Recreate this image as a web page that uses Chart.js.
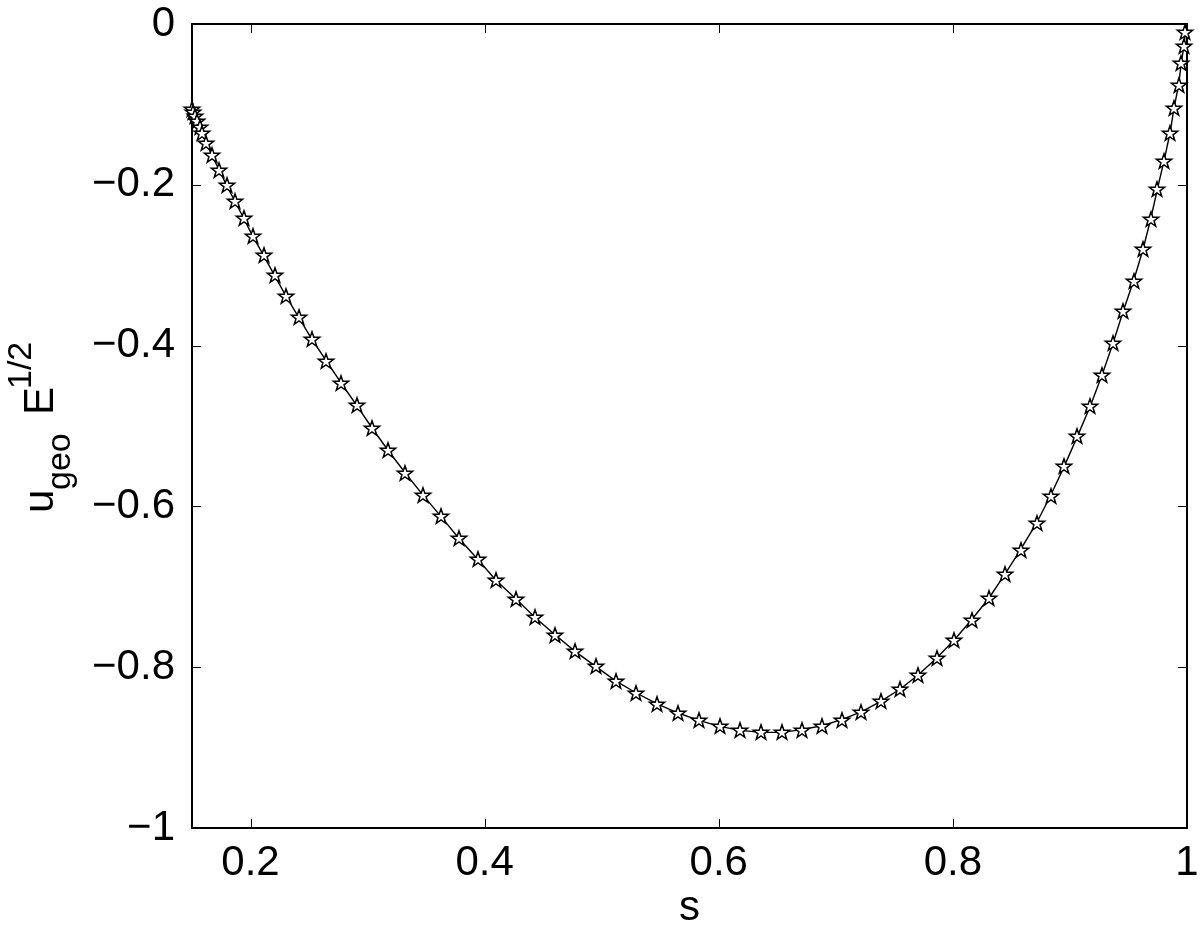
<!DOCTYPE html>
<html>
<head>
<meta charset="utf-8">
<script src="https://cdn.jsdelivr.net/npm/chart.js@4/dist/chart.umd.min.js"></script>
<style>
  html, body { margin: 0; padding: 0; background: #fff; }
  #wrap { width: 1200px; height: 927px; }
</style>
</head>
<body>
<div id="wrap"><canvas id="chart" width="1200" height="927"></canvas></div>
<script>
// values
const s = [0.1497, 0.1505, 0.1522, 0.1544, 0.1565, 0.1586, 0.1620, 0.1667, 0.1731, 0.1795,
  0.1864, 0.1940, 0.2020, 0.2111, 0.2205, 0.2304, 0.2412, 0.2523, 0.2646, 0.2774,
  0.2907, 0.3038, 0.3171, 0.3322, 0.3470, 0.3626, 0.3777, 0.3939, 0.4096, 0.4266,
  0.4431, 0.4601, 0.4772, 0.4948, 0.5122, 0.5296, 0.5469, 0.5653, 0.5829, 0.6009,
  0.6185, 0.6361, 0.6540, 0.6710, 0.6881, 0.7049, 0.7217, 0.7384, 0.7550, 0.7706,
  0.7862, 0.8013, 0.8160, 0.8309, 0.8445, 0.8578, 0.8715, 0.8834, 0.8951, 0.9064,
  0.9175, 0.9275, 0.9369, 0.9454, 0.9544, 0.9625, 0.9690, 0.9747, 0.9804, 0.9855,
  0.9889, 0.9929, 0.9951, 0.9974, 0.9986];
const u = [-0.1053, -0.1091, -0.1141, -0.1203, -0.1277, -0.1352, -0.1476, -0.1626, -0.1812, -0.2005,
  -0.2198, -0.2413, -0.2642, -0.2878, -0.3127, -0.3388, -0.3649, -0.3918, -0.4188, -0.4465,
  -0.4744, -0.5025, -0.5295, -0.5585, -0.5854, -0.6124, -0.6393, -0.6654, -0.6918, -0.7148,
  -0.7381, -0.7596, -0.7803, -0.7990, -0.8174, -0.8321, -0.8454, -0.8570, -0.8662, -0.8736,
  -0.8786, -0.8811, -0.8811, -0.8777, -0.8728, -0.8653, -0.8557, -0.8425, -0.8271, -0.8093,
  -0.7886, -0.7658, -0.7409, -0.7139, -0.6841, -0.6538, -0.6206, -0.5867, -0.5502, -0.5129,
  -0.4748, -0.4362, -0.3968, -0.3575, -0.3193, -0.2799, -0.2425, -0.2052, -0.1700, -0.1356,
  -0.1045, -0.0755, -0.0485, -0.0270, -0.0100];
// the solid line starts at the top-left corner before the first star
const sLineStart = 0.1502;
const uLineStart = 0;

const xTicks = [0.2, 0.4, 0.6, 0.8, 1];
const yTicks = [-1, -0.8, -0.6, -0.4, -0.2, 0];

const FONT = '"Liberation Sans", Arial, Helvetica, sans-serif';

// five-pointed star marker (MATLAB 'p')
function makeStar(r) {
  const size = 20;
  const c = document.createElement('canvas');
  c.width = size; c.height = size;
  const g = c.getContext('2d');
  const cx = size / 2, cy = size / 2 + 0.8;
  g.beginPath();
  for (let i = 0; i < 10; i++) {
    const rad = i % 2 ? r * 0.4 : r;
    const ang = -Math.PI / 2 + i * Math.PI / 5;
    g.lineTo(cx + rad * Math.cos(ang), cy + rad * Math.sin(ang));
  }
  g.closePath();
  g.fillStyle = '#fff';
  g.fill();
  g.lineWidth = 1.5;
  g.lineJoin = 'miter';
  g.strokeStyle = '#000';
  g.stroke();
  return c;
}

const fmt = v => {
  const n = Number(v.toFixed(1));
  return n < 0 ? '\u2212' + String(-n) : String(n);
};

// box, inward ticks and axis titles like a MATLAB figure
const boxPlugin = {
  id: 'matlabBox',
  beforeDatasetsDraw(chart) {
    const { ctx, chartArea: a, scales: { x, y } } = chart;
    ctx.save();
    ctx.strokeStyle = '#000';
    ctx.lineWidth = 1;
    ctx.beginPath();
    x.ticks.forEach(t => {
      const px = Math.round(x.getPixelForValue(t.value)) + 0.5;
      ctx.moveTo(px, a.bottom); ctx.lineTo(px, a.bottom - 9);
      ctx.moveTo(px, a.top); ctx.lineTo(px, a.top + 9);
    });
    y.ticks.forEach(t => {
      const py = Math.round(y.getPixelForValue(t.value)) + 0.5;
      ctx.moveTo(a.left, py); ctx.lineTo(a.left + 9, py);
      ctx.moveTo(a.right, py); ctx.lineTo(a.right - 9, py);
    });
    ctx.stroke();
    ctx.lineWidth = 2;
    ctx.strokeRect(a.left, a.top, a.right - a.left, a.bottom - a.top);
    ctx.restore();
    // keep the star images crisp
    ctx.imageSmoothingEnabled = false;
  },
  afterDraw(chart) {
    const { ctx, chartArea: a } = chart;
    ctx.save();
    ctx.fillStyle = '#000';
    ctx.textBaseline = 'alphabetic';
    // x title
    ctx.font = '42px ' + FONT;
    ctx.textAlign = 'center';
    ctx.fillText('s', (a.left + a.right) / 2, 920);
    // y title: u_geo E^{1/2}, rotated
    ctx.translate(53, 513);
    ctx.rotate(-Math.PI / 2);
    ctx.textAlign = 'left';
    ctx.font = '42px ' + FONT;
    ctx.fillText('u', 0, 0);
    ctx.font = '34px ' + FONT;
    ctx.fillText('geo', 23, 17);
    ctx.font = '42px ' + FONT;
    ctx.fillText('E', 98, 0);
    ctx.font = '34px ' + FONT;
    ctx.fillText('1/2', 124, -22);
    ctx.restore();
  }
};

const starImg = makeStar(8);
const pts = s.map((v, i) => ({ x: v, y: u[i] }));

new Chart(document.getElementById('chart'), {
  type: 'scatter',
  data: {
    datasets: [
      {
        label: 'stars',
        data: pts,
        showLine: false,
        pointStyle: starImg,
        pointRadius: 8,
        clip: false,
        order: 0
      },
      {
        label: 'line',
        data: [{ x: sLineStart, y: uLineStart }].concat(pts),
        showLine: true,
        borderColor: '#000',
        borderWidth: 1.4,
        pointRadius: 0,
        tension: 0,
        order: 1
      }
    ]
  },
  options: {
    responsive: false,
    devicePixelRatio: 1,
    animation: false,
    layout: { padding: { top: 24, right: 13, left: 0, bottom: 0 } },
    plugins: {
      legend: { display: false },
      tooltip: { enabled: false }
    },
    scales: {
      x: {
        type: 'linear',
        min: 0.15,
        max: 1,
        afterBuildTicks: sc => { sc.ticks = xTicks.map(v => ({ value: v })); },
        afterFit: sc => { sc.height = 99; sc.paddingLeft = 0; sc.paddingRight = 0; },
        grid: { display: false },
        border: { display: false },
        ticks: {
          color: '#000',
          padding: 2,
          maxRotation: 0,
          font: { family: FONT, size: 42 },
          callback: v => fmt(v)
        }
      },
      y: {
        type: 'linear',
        min: -1,
        max: 0,
        afterBuildTicks: sc => { sc.ticks = yTicks.map(v => ({ value: v })); },
        afterFit: sc => { sc.width = 192; sc.paddingTop = 0; sc.paddingBottom = 0; },
        grid: { display: false },
        border: { display: false },
        ticks: {
          color: '#000',
          padding: 9,
          font: { family: FONT, size: 42 },
          callback: v => fmt(v)
        }
      }
    }
  },
  plugins: [boxPlugin]
});
</script>
</body>
</html>
